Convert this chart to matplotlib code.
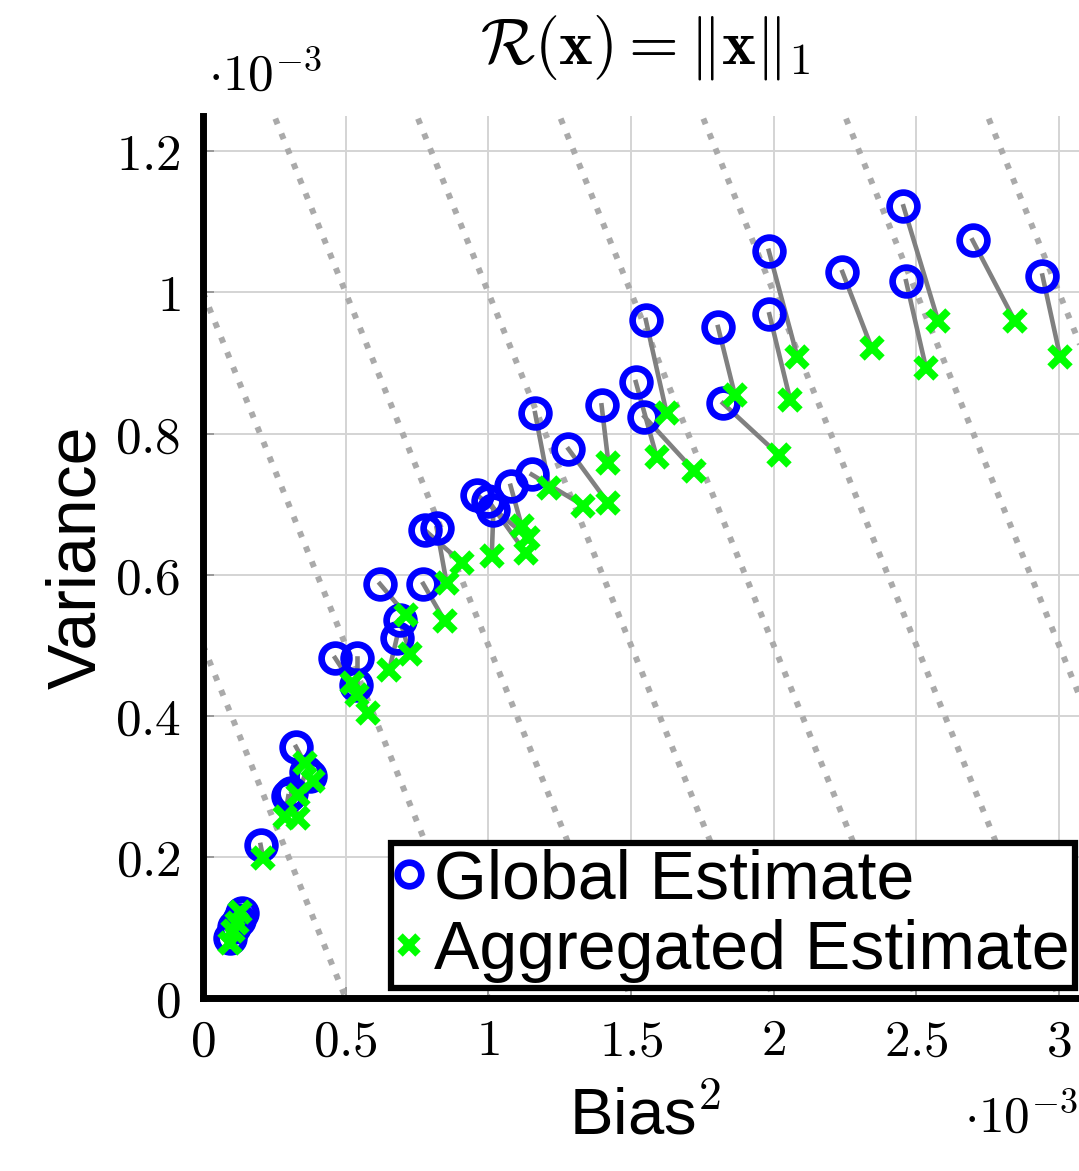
"""
Bias^2 vs variance scatter, R(x) = ||x||_1
Global estimates (circles) linked to aggregated estimates (crosses).
"""

import matplotlib
matplotlib.use("Agg")
import matplotlib.pyplot as plt
import numpy as np

plt.rcParams['mathtext.fontset'] = 'cm'
plt.rcParams['font.family'] = ['Liberation Sans', 'DejaVu Sans']

# values in units of 1e-3
global_bias2 = [2.455, 2.697, 2.942, 2.464, 2.241, 1.983, 1.985, 1.805, 1.822,
                1.552, 1.517, 1.547, 1.397, 1.281, 1.164, 1.152, 1.078, 0.961,
                1.000, 1.018, 0.819, 0.778, 0.620, 0.772, 0.690, 0.679, 0.463,
                0.539, 0.536, 0.326, 0.375, 0.360, 0.299, 0.310, 0.202, 0.136,
                0.125, 0.110, 0.095]
global_var = [1.122, 1.074, 1.024, 1.016, 1.029, 1.059, 0.969, 0.951, 0.843,
              0.961, 0.873, 0.824, 0.840, 0.778, 0.829, 0.742, 0.726, 0.713,
              0.705, 0.692, 0.666, 0.663, 0.587, 0.587, 0.536, 0.510, 0.482,
              0.482, 0.444, 0.356, 0.314, 0.320, 0.286, 0.290, 0.217, 0.120,
              0.110, 0.100, 0.085]
agg_bias2 = [2.577, 2.846, 3.004, 2.534, 2.344, 2.083, 2.058, 1.864, 2.020,
             1.625, 1.590, 1.722, 1.421, 1.421, 1.214, 1.333, 1.117, 1.140,
             1.131, 1.012, 0.854, 0.907, 0.712, 0.848, 0.726, 0.653, 0.521,
             0.539, 0.580, 0.357, 0.387, 0.334, 0.287, 0.334, 0.211, 0.131,
             0.118, 0.105, 0.095]
agg_var = [0.959, 0.959, 0.909, 0.893, 0.921, 0.909, 0.848, 0.855, 0.769,
           0.829, 0.767, 0.747, 0.758, 0.701, 0.723, 0.698, 0.669, 0.652,
           0.631, 0.626, 0.588, 0.617, 0.543, 0.534, 0.487, 0.465, 0.446,
           0.430, 0.404, 0.333, 0.307, 0.288, 0.257, 0.255, 0.198, 0.122,
           0.106, 0.095, 0.078]

# iso-MSE levels (bias^2 + variance = c)
mse_levels = [0.5, 1.0, 1.5, 2.0, 2.5, 3.0, 3.5, 4.0]

x_ticks = [0, 0.5, 1, 1.5, 2, 2.5, 3]
y_ticks = [0, 0.2, 0.4, 0.6, 0.8, 1.0, 1.2]

fig = plt.figure(figsize=(10.79, 11.71), dpi=100)
ax = fig.add_axes([0.1881, 0.1477, 0.8198, 0.7532])

ax.set_xlim(0, 3.1)
ax.set_ylim(0, 1.25)

# grid
ax.set_xticks(x_ticks)
ax.set_yticks(y_ticks)
ax.grid(True, color='#d4d4d4', linewidth=1.4)
ax.set_axisbelow(True)

# iso lines
for c in mse_levels:
    b = np.array([0.0, c])
    ax.plot(b, c - b, color='#aaaaaa', linewidth=4.3,
            linestyle=(0, (1.0, 1.7)), dash_capstyle='butt', zorder=1.5)

# connectors
for gb, gv, ab, av in zip(global_bias2, global_var, agg_bias2, agg_var):
    ax.plot([gb, ab], [gv, av], color='#808080', linewidth=3.3, zorder=2)

ax.plot(global_bias2, global_var, linestyle='none', marker='o',
        markersize=20, markerfacecolor='none', markeredgecolor='#0000ff',
        markeredgewidth=4.8, zorder=3, label='Global Estimate')
ax.plot(agg_bias2, agg_var, linestyle='none', marker='x',
        markersize=15, markeredgecolor='#00ff00', markeredgewidth=5.5,
        zorder=4, label='Aggregated Estimate')

# axes style
for side in ['top', 'right']:
    ax.spines[side].set_visible(False)
for side in ['left', 'bottom']:
    ax.spines[side].set_linewidth(5)
ax.tick_params(direction='in', length=8, width=1.4, color='#999999',
               labelsize=37)
ax.tick_params(axis='y', pad=16)
ax.tick_params(axis='x', pad=14)
ax.set_xticklabels([f"${t:g}$" for t in x_ticks])
ax.set_yticklabels([f"${t:g}$" for t in y_ticks])

ax.set_xlabel('Bias$^2$', fontsize=47, labelpad=14)
ax.set_ylabel('Variance', fontsize=49, labelpad=4)
ax.set_title(r'$\mathcal{R}(\mathbf{x}) = \|\mathbf{x}\|_1$', fontsize=46,
             pad=38)

fig.text(0.193, 0.914, r'$\cdot 10^{-3}$', fontsize=37, ha='left', va='bottom')
fig.text(0.9995, 0.024, r'$\cdot 10^{-3}$', fontsize=37, ha='right', va='bottom')

leg = ax.legend(loc='lower right', bbox_to_anchor=(0.986, 0.011),
                fontsize=49, frameon=True, fancybox=False, framealpha=1,
                edgecolor='black', borderaxespad=0, handlelength=0.35,
                handletextpad=0.2, borderpad=0.08, labelspacing=0.1,
                markerscale=0.85)
leg.get_frame().set_linewidth(4.5)
leg.set_zorder(10)

fig.savefig('out.png', dpi=100)
